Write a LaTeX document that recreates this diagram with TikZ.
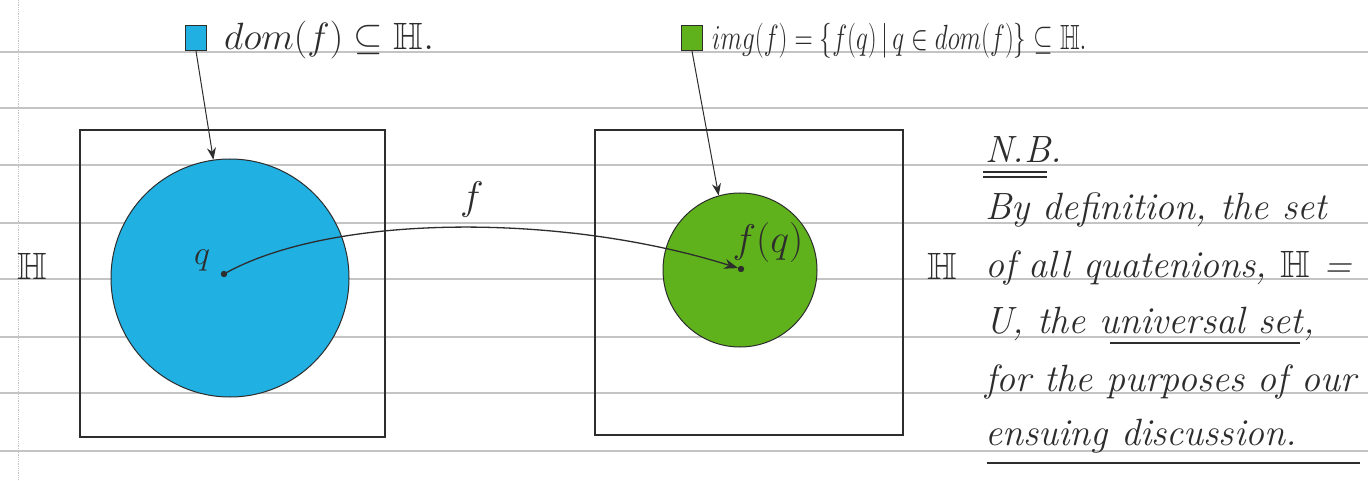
\RequirePackage{fix-cm}
\documentclass[tikz,border=0pt]{standalone}
\usepackage{amssymb}
\usetikzlibrary{arrows.meta}
\definecolor{domblue}{RGB}{32,176,226}
\definecolor{imggreen}{RGB}{96,178,28}
\definecolor{ink}{RGB}{45,45,45}
\definecolor{ruling}{RGB}{196,196,196}
\begin{document}
\begin{tikzpicture}[x=1pt,y=-1pt,
  rule/.style={draw=ruling, line width=1.4pt},
  setbox/.style={draw=ink, line width=1.6pt, rectangle, inner sep=0pt},
  setdisc/.style={draw=ink, line width=1pt, circle, inner sep=0pt},
  legsq/.style={draw=ink, line width=1.2pt, rectangle, inner sep=0pt, minimum width=21pt, minimum height=25pt},
  pointer/.style={draw=ink, line width=1pt, -{Stealth[length=12pt,width=9pt]}},
  mapto/.style={draw=ink, line width=1.3pt, -{Stealth[length=14pt,width=10pt]}},
  hand/.style={text=ink, font=\fontsize{38}{46}\selectfont\itshape, inner sep=0pt},
  lbl/.style={text=ink, font=\fontsize{34}{40}\selectfont, inner sep=0pt},
  uline/.style={draw=ink, line width=1.2pt}
]
\useasboundingbox (0,0) rectangle (1368,481);
\fill[white] (0,0) rectangle (1368,481);
% notebook ruling
\foreach \yy in {52,108,165,223,279,337,393,451}
  \draw[rule] (0,\yy) -- (1368,\yy);
\draw[ruling, line width=0.8pt, densely dotted] (18,0) -- (18,481);

% universe boxes
\node[setbox, minimum width=305pt, minimum height=307pt] (boxA) at (232.5,283.5) {};
\node[setbox, minimum width=308pt, minimum height=305pt] (boxB) at (749,282.5) {};

% domain and image discs
\node[setdisc, fill=domblue, minimum size=238pt] (dom) at (230,278) {};
\node[setdisc, fill=imggreen, minimum size=154pt] (img) at (740,270) {};

% points
\coordinate (q) at (224,274);
\coordinate (fq) at (741,269);
\fill[ink] (q) circle (3.2);
\fill[ink] (fq) circle (3.2);
\node[lbl] (qlab) at (202,260) {$q$};
\node[lbl, font=\fontsize{40}{46}\selectfont] (fqlab) at (768,243) {$f(q)$};

% mapping arrow
\draw[mapto, shorten >=3pt] (q) .. controls (330,214) and (560,212) .. (fq);
\node[lbl, font=\fontsize{40}{46}\selectfont] (flab) at (472,200) {$f$};

% H labels
\node[lbl, font=\fontsize{38}{44}\selectfont] (HA) at (32,266) {$\mathbb{H}$};
\node[lbl, font=\fontsize{38}{44}\selectfont] (HB) at (942,266) {$\mathbb{H}$};

% legend
\node[legsq, fill=domblue] (sqA) at (196,38) {};
\node[lbl, font=\fontsize{38}{44}\selectfont, anchor=base west] (domtxt) at (224,50) {$dom(f) \subseteq \mathbb{H}.$};
\draw[pointer] (sqA.south) -- (dom.98);

\node[legsq, fill=imggreen] (sqB) at (692,38) {};
\node[lbl, font=\fontsize{35}{40}\selectfont, anchor=base west] (imgtxt) at (712,50)
  {\scalebox{0.72}[1]{$img(f) = \{f(q)\,|\,q \in dom(f)\} \subseteq \mathbb{H}.$}};
\draw[pointer] (sqB.south) -- (img.106);

% N.B. note
\node[hand, anchor=base west] (nb) at (985,163) {N.B.};
\draw[uline] (nb.base west) ++(-2,9) -- ++(64,0);
\draw[uline] (nb.base west) ++(-2,14) -- ++(64,0);
\node[hand, anchor=base west] (l1) at (985,220) {By definition, the set};
\node[hand, anchor=base west] (l2) at (985,277) {of all quatenions, $\mathbb{H}$ =};
\node[hand, anchor=base west] (l3) at (985,333) {U, the universal set,};
\draw[uline] (1110,343) -- (1300,343);
\node[hand, anchor=base west] (l4) at (985,391) {for the purposes of our};
\node[hand, anchor=base west] (l5) at (985,445) {ensuing discussion.};
\draw[uline] (987,463) -- (1360,463);
\end{tikzpicture}
\end{document}
